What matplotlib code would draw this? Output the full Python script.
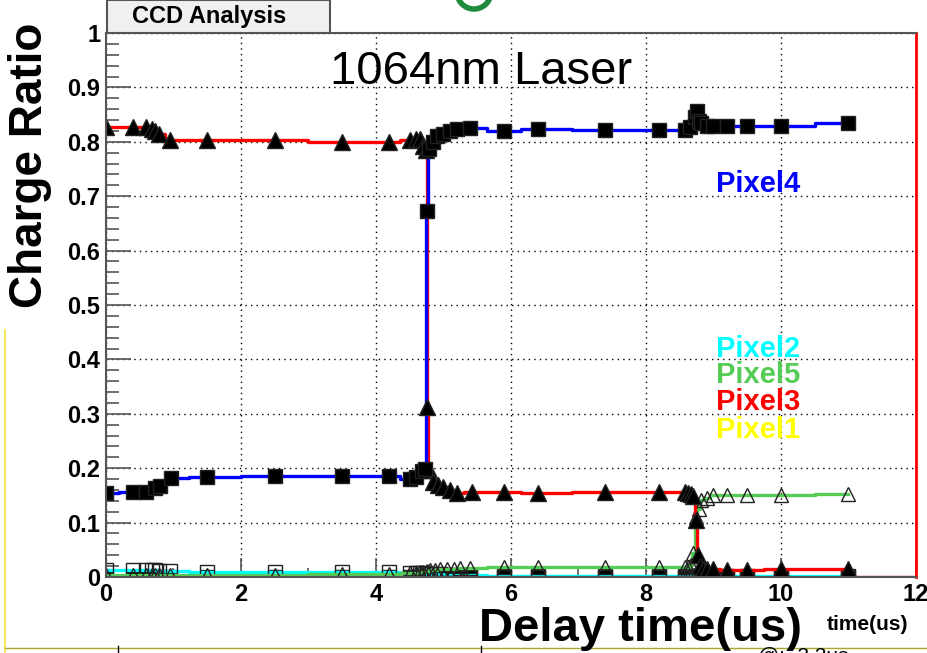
import matplotlib
matplotlib.use('Agg')
import matplotlib.pyplot as plt
from matplotlib.ticker import MultipleLocator, FuncFormatter
from matplotlib.patches import Rectangle, Arc
from matplotlib.lines import Line2D

plt.rcParams['font.family'] = ['Liberation Sans', 'DejaVu Sans']
plt.rcParams['font.weight'] = 'bold'

# --- measured charge ratios vs. laser delay (us) ---
# Pixel4: low -> high transition near 4.75 us
x4 = [0, 0.4, 0.6, 0.72, 0.8, 0.97, 1.5, 2.5, 3.5, 4.2, 4.5, 4.6, 4.68, 4.73,
      4.76, 4.78, 4.84, 4.9, 5.0, 5.1, 5.2, 5.4, 5.9, 6.4, 7.4, 8.2, 8.58,
      8.65, 8.72, 8.76, 8.78, 8.82, 8.9, 9.0, 9.2, 9.5, 10.0, 11.0]
y4 = [0.155, 0.157, 0.157, 0.164, 0.168, 0.182, 0.183, 0.185, 0.185, 0.186,
      0.181, 0.183, 0.195, 0.198, 0.672, 0.787, 0.800, 0.810, 0.815, 0.820,
      0.824, 0.826, 0.820, 0.823, 0.822, 0.822, 0.822, 0.828, 0.846, 0.857,
      0.839, 0.835, 0.829, 0.829, 0.829, 0.829, 0.829, 0.835]

# Pixel3: high -> mid near 4.75 us, mid -> ~0 near 8.75 us
x3 = [0, 0.4, 0.6, 0.68, 0.73, 0.79, 0.95, 1.5, 2.5, 3.5, 4.2, 4.5, 4.6, 4.65,
      4.7, 4.74, 4.76, 4.78, 4.85, 4.92, 5.0, 5.1, 5.2, 5.42, 5.9, 6.4, 7.4,
      8.2, 8.58, 8.62, 8.66, 8.7, 8.74, 8.77, 8.8, 8.85, 8.9, 9.0, 9.2, 9.5,
      10.0, 11.0]
y3 = [0.828, 0.828, 0.827, 0.823, 0.820, 0.815, 0.803, 0.803, 0.803, 0.800,
      0.800, 0.803, 0.805, 0.805, 0.793, 0.785, 0.312, 0.197, 0.175, 0.170,
      0.166, 0.160, 0.155, 0.157, 0.157, 0.154, 0.157, 0.157, 0.157, 0.155,
      0.152, 0.148, 0.105, 0.040, 0.020, 0.015, 0.015, 0.015, 0.012, 0.012,
      0.015, 0.015]

# low-level pixels share one delay scan
xl = [0, 0.4, 0.6, 0.68, 0.73, 0.79, 0.95, 1.5, 2.5, 3.5, 4.2, 4.5, 4.6, 4.65,
      4.7, 4.75, 4.8, 4.88, 4.95, 5.05, 5.15, 5.25, 5.4, 5.9, 6.4, 7.4, 8.2,
      8.58, 8.62, 8.66, 8.7, 8.74, 8.78, 8.82, 8.9, 9.0, 9.2, 9.5, 10.0, 11.0]
y5 = [0.003, 0.003, 0.004, 0.004, 0.004, 0.004, 0.004, 0.004, 0.004, 0.005,
      0.005, 0.008, 0.008, 0.009, 0.010, 0.011, 0.012, 0.013, 0.014, 0.014,
      0.015, 0.016, 0.017, 0.018, 0.018, 0.018, 0.018, 0.018, 0.019, 0.022,
      0.045, 0.110, 0.125, 0.142, 0.146, 0.151, 0.151, 0.151, 0.151, 0.152]
y2 = [0.013, 0.013, 0.012, 0.012, 0.012, 0.011, 0.011, 0.010, 0.010, 0.009,
      0.009, 0.008, 0.008, 0.007, 0.007, 0.006, 0.006, 0.005, 0.005, 0.004,
      0.004, 0.003, 0.003, 0.002, 0.002, 0.002, 0.002, 0.002, 0.002, 0.002,
      0.002, 0.002, 0.002, 0.002, 0.002, 0.002, 0.002, 0.002, 0.002, 0.002]
y1 = [0.0] * len(xl)

labels = ['Pixel4', 'Pixel2', 'Pixel5', 'Pixel3', 'Pixel1']
label_y = [0.723, 0.420, 0.371, 0.321, 0.271]
label_x = 9.04

BLUE, RED, CYAN, GREEN, YELLOW = '#0000ff', '#ff0000', '#00ffff', '#55cc55', '#ffff00'

fig = plt.figure(figsize=(9.28, 6.53), dpi=100)
ax = fig.add_axes([106 / 928, 1 - 577 / 653, 810 / 928, 544 / 653])

LW = 2.4
line_kw = dict(drawstyle='steps-mid', lw=LW)
mark_kw = dict(ls='none', mec='#222222', mew=1.0)

# low series first, so the big curves sit on top
ax.plot(xl, y1, color=YELLOW, **line_kw)
ax.plot(xl, y1, marker='s', ms=9.5, mfc='black', **mark_kw)
ax.plot(xl, y2, color=CYAN, **line_kw)
ax.plot(xl, y2, marker='s', ms=9.5, mfc='none', **mark_kw)
ax.plot(xl, y5, color=GREEN, **line_kw)
ax.plot(xl, y5, marker='^', ms=10.5, mfc='none', **mark_kw)

ax.plot(x3, y3, color=RED, **line_kw)
ax.plot([x3[-1], x3[-1], 12], [y3[-1], 0, 0], color=RED, lw=LW)
ax.plot(x4, y4, color=BLUE, **line_kw)
ax.plot(x3, y3, marker='^', ms=11, mfc='black', **mark_kw)
ax.plot(x4, y4, marker='s', ms=9.5, mfc='black', **mark_kw)

for name, ly, col in zip(labels, label_y, [BLUE, CYAN, GREEN, RED, YELLOW]):
    ax.text(label_x, ly, name, color=col, fontsize=21, fontweight='bold',
            va='center', ha='left')

ax.set_xlim(0, 12)
ax.set_ylim(0, 1)
ax.xaxis.set_major_locator(MultipleLocator(2))
ax.xaxis.set_minor_locator(MultipleLocator(1))
ax.yaxis.set_major_locator(MultipleLocator(0.1))
ax.yaxis.set_minor_locator(MultipleLocator(0.02))
ax.yaxis.set_major_formatter(FuncFormatter(lambda v, _: f'{v:g}'))
ax.xaxis.set_major_formatter(FuncFormatter(lambda v, _: f'{v:g}'))

ax.tick_params(which='both', direction='in', color='#555555', labelsize=17,
               top=False, right=False)
ax.tick_params(axis='y', which='major', length=18, width=1.2, pad=4)
ax.tick_params(axis='y', which='minor', length=9.5, width=1.2)
ax.tick_params(axis='x', which='major', length=14, width=1.2, pad=4)
ax.tick_params(axis='x', which='minor', length=6.5, width=1.2)
for lab in ax.get_xticklabels() + ax.get_yticklabels():
    lab.set_fontweight('bold')

ax.grid(True, which='major', color='black', lw=1, ls=(0, (1, 3)))
for side in ['left', 'top', 'bottom']:
    ax.spines[side].set_color('#555555')
    ax.spines[side].set_linewidth(1.5)
ax.spines['right'].set_color(RED)
ax.spines['right'].set_linewidth(2)

# title box
fig.patches.append(Rectangle((107 / 928, 1 - 33 / 653), 223 / 928, 33 / 653,
                             transform=fig.transFigure, facecolor='#f0f0f0',
                             edgecolor='#555555', lw=1.5, zorder=0))
fig.text(132 / 928, 1 - 17 / 653, 'CCD Analysis', fontsize=17,
         fontweight='bold', va='center', ha='left')

fig.text(330 / 928, 1 - 84 / 653, '1064nm Laser', fontsize=34,
         fontweight='normal', va='baseline', ha='left')

fig.text(30 / 928, 1 - 165 / 653, 'Charge Ratio', rotation=90, fontsize=33,
         fontweight='bold', ha='center', va='center')
fig.text(641 / 928, 1 - 641 / 653, 'Delay time(us)', fontsize=34,
         fontweight='bold', ha='center', va='baseline')
fig.text(868 / 928, 1 - 630 / 653, 'time(us)', fontsize=15,
         fontweight='bold', ha='center', va='baseline')

# slide leftovers around the plot
fig.add_artist(Line2D([5 / 928, 5 / 928], [0, 1 - 330 / 653],
                      color='#f0e860', lw=1.5))
fig.add_artist(Line2D([5 / 928, 1], [1 - 648 / 653] * 2, color='#a8a830', lw=1))
for px in [118, 481]:
    fig.add_artist(Line2D([px / 928] * 2, [0, 1 - 646 / 653], color='black', lw=1))
fig.text(758 / 928, 1 - 662 / 653, '@: -3.2us', fontsize=15,
         fontweight='normal', va='baseline', ha='left')
fig.add_artist(Arc((474 / 928, 1 + 8 / 653), 34 / 928, 34 / 653,
                   theta1=190, theta2=350, transform=fig.transFigure,
                   color='#1e8c3c', lw=4))

fig.savefig('out.png', dpi=100)
